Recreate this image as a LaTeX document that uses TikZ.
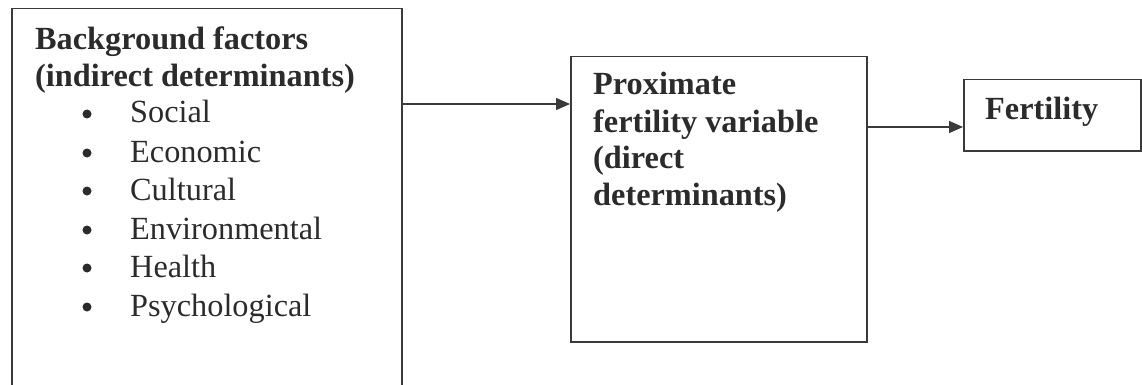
\documentclass[tikz,border=0pt]{standalone}
\usepackage{fontspec}
\setmainfont{Liberation Serif}
\usetikzlibrary{arrows.meta}
\definecolor{ink}{HTML}{2B2B2B}
\definecolor{linec}{HTML}{3A3A3A}
\tikzset{
  box/.style={draw=linec, line width=1.5pt, rectangle, inner sep=0pt, anchor=north west},
  hd/.style={anchor=base west, inner sep=0pt, text=ink, font=\fontsize{32.3}{37}\selectfont\bfseries},
  itm/.style={anchor=base west, inner sep=0pt, text=ink, font=\fontsize{32.3}{37}\selectfont},
  bul/.style={circle, fill=ink, inner sep=0pt, minimum size=9pt},
  arr/.style={draw=linec, line width=1.5pt, -{Triangle[length=14pt,width=12pt]}}
}
\begin{document}
\begin{tikzpicture}[x=1pt,y=-1pt]
\useasboundingbox (0,0) rectangle (1142,385);
\clip (0,0) rectangle (1142,385);
% boxes
\node[box, minimum width=390pt, minimum height=392pt] (bg) at (11,8) {};
\node[box, minimum width=296pt, minimum height=285pt] (prox) at (570,56) {};
\node[box, minimum width=177pt, minimum height=71pt] (fert) at (963,79) {};
% left box text
\node[hd] (bg1) at (35,50) {Background factors};
\node[hd] (bg2) at (35,87) {(indirect determinants)};
\node[bul] (b1) at (87,114) {};
\node[itm] (i1) at (130,123) {Social};
\node[bul] (b2) at (87,153) {};
\node[itm] (i2) at (130,162) {Economic};
\node[bul] (b3) at (87,191) {};
\node[itm] (i3) at (130,200) {Cultural};
\node[bul] (b4) at (87,230) {};
\node[itm] (i4) at (130,239) {Environmental};
\node[bul] (b5) at (87,268) {};
\node[itm] (i5) at (130,277) {Health};
\node[bul] (b6) at (87,307) {};
\node[itm] (i6) at (130,316) {Psychological};
% middle box text
\node[hd] (p1) at (593,95) {Proximate};
\node[hd] (p2) at (593,132) {fertility variable};
\node[hd] (p3) at (593,168) {(direct};
\node[hd] (p4) at (593,205) {determinants)};
% right box text
\node[hd] (f1) at (985,120) {Fertility};
% connectors
\coordinate (y1) at (0,104);
\coordinate (y2) at (0,127);
\draw[arr] (bg.east |- y1) -- (prox.west |- y1);
\draw[arr] (prox.east |- y2) -- (fert.west |- y2);
\end{tikzpicture}
\end{document}
